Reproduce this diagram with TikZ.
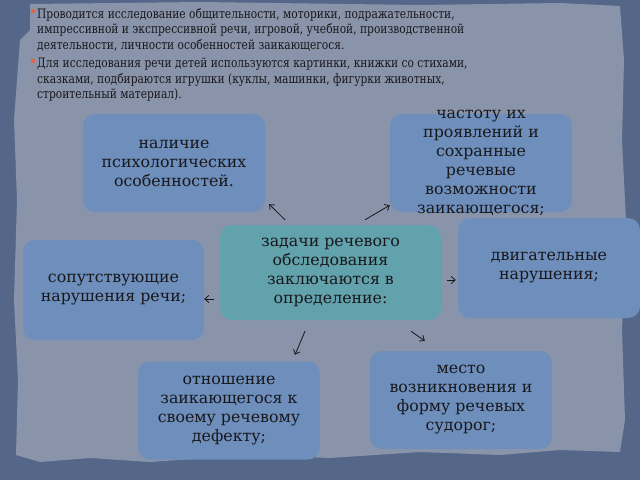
\documentclass[tikz,border=0pt]{standalone}
\usepackage{fontspec}
\setmainfont{DejaVu Serif}[FakeStretch=0.82]
\newfontfamily\boxfont{DejaVu Serif}
\usetikzlibrary{arrows.meta}
\definecolor{frame}{RGB}{84,103,137}
\definecolor{paper}{RGB}{137,148,170}
\definecolor{boxblue}{RGB}{110,143,188}
\definecolor{boxteal}{RGB}{98,162,172}
\definecolor{ink}{RGB}{24,24,28}
\definecolor{dot}{RGB}{214,104,80}
\tikzset{
  box/.style={rounded corners=12pt, fill=boxblue, text=ink, align=center,
    minimum width=182, minimum height=98, inner sep=0pt,
    font=\boxfont\fontsize{15.8}{19}\selectfont},
  body/.style={anchor=north west, align=left, text=ink, inner sep=0pt,
    font=\fontsize{13}{15.5}\selectfont},
  arr/.style={-{Straight Barb[length=4pt,width=7pt]}, draw=ink, line width=0.8pt}
}
\begin{document}
\begin{tikzpicture}[x=1pt,y=-1pt]
  \useasboundingbox (0,0) rectangle (640,480);
  \fill[frame] (0,0) rectangle (640,480); %фон
  \fill[paper] (30,4) -- (200,2) -- (420,5) -- (560,3) -- (620,6) -- (624,60)
    -- (622,140) -- (626,220) -- (622,330) -- (625,420) -- (620,452)
    -- (560,450) -- (500,455) -- (420,452) -- (330,458) -- (250,455)
    -- (150,462) -- (90,458) -- (40,462) -- (16,455) -- (18,380)
    -- (14,300) -- (17,200) -- (14,120) -- (20,40) -- (30,30) -- cycle; %лист

  %текст
  \fill[dot] (33,11) circle (2.3);
  \node[body] (p1) at (37,8) {Проводится исследование общительности, моторики, подражательности,\\
    импрессивной и экспрессивной речи, игровой, учебной, производственной\\
    деятельности, личности особенностей заикающегося.};
  \fill[dot] (33,61) circle (2.3);
  \node[body] (p2) at (37,58) {Для исследования речи детей используются картинки, книжки со стихами,\\
    сказками, подбираются игрушки (куклы, машинки, фигурки животных,\\
    строительный материал).};

  %блоки
  \node[box, fill=boxteal, minimum width=221, minimum height=95] (ctr) at (330.5,272.5)
    {задачи речевого\\ обследования\\ заключаются в\\ определение:};
  \node[box] (psy) at (174,163) {наличие\\ психологических\\ особенностей.};
  \node[box, inner ysep=-8pt] (freq) at (481,163)
    {частоту их\\ проявлений и\\ сохранные\\ речевые\\ возможности\\ заикающегося;};
  \node[box, minimum height=100] (mot) at (549,268) {двигательные\\ нарушения;};
  \node[box, minimum width=181, minimum height=100] (acc) at (113.5,290) {сопутствующие\\ нарушения речи;};
  \node[box] (att) at (229,410.5) {отношение\\ заикающегося к\\ своему речевому\\ дефекту;};
  \node[box] (cram) at (461,400) {место\\ возникновения и\\ форму речевых\\ судорог;};

  %стрелки
  \draw[arr] ([xshift=-45.5pt,yshift=5pt]ctr.north) -- ([xshift=4pt,yshift=8pt]psy.south east);
  \draw[arr] ([xshift=34.5pt,yshift=5pt]ctr.north) -- ([yshift=7pt]freq.south west);
  \draw[arr] ([xshift=6pt,yshift=-7.5pt]ctr.east) -- ([xshift=-2pt,yshift=-12pt]mot.west);
  \draw[arr] ([xshift=-6pt,yshift=-26.5pt]ctr.west) -- ([yshift=-9pt]acc.east);
  \draw[arr] ([xshift=-25.5pt,yshift=-11pt]ctr.south) -- ([xshift=66pt,yshift=6.5pt]att.north);
  \draw[arr] ([xshift=80.5pt,yshift=-11pt]ctr.south) -- ([xshift=55pt,yshift=10pt]cram.north west);
\end{tikzpicture}
\end{document}
